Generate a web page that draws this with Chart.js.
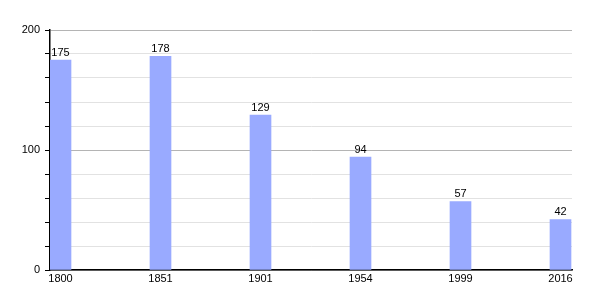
<!DOCTYPE html>
<html lang="en">
<head>
  <meta charset="UTF-8">
  <title>Population</title>
  <style>
    body { margin: 0; background: #fff; }
    canvas { display: block; }
  </style>
</head>
<body>
  <canvas id="chart" width="600" height="300"></canvas>

  <script src="https://cdn.jsdelivr.net/npm/chart.js"></script>
  <script>
    const years = ['1800', '1851', '1901', '1954', '1999', '2016'];
    const population = [175, 178, 129, 94, 57, 42];
    const yLabels = [0, 100, 200];

    const barColor = '#99aaff';

    // numbers above each bar
    const valueLabels = {
      id: 'valueLabels',
      afterDatasetsDraw(chart) {
        const ctx = chart.ctx;
        const meta = chart.getDatasetMeta(0);
        ctx.save();
        ctx.font = '11px "Liberation Sans", Arial, sans-serif';
        ctx.fillStyle = '#000';
        ctx.textAlign = 'center';
        ctx.textBaseline = 'bottom';
        meta.data.forEach((bar, i) => {
          ctx.fillText(population[i], bar.x, bar.y - 2);
        });
        ctx.restore();
      }
    };

    Chart.defaults.font.family = '"Liberation Sans", Arial, sans-serif';
    Chart.defaults.font.size = 11;
    Chart.defaults.color = '#000';

    new Chart(document.getElementById('chart'), {
      type: 'bar',
      data: {
        datasets: [{
          data: population.map((v, i) => ({ x: i, y: v })),
          backgroundColor: barColor,
          borderWidth: 0,
          barThickness: 21
        }]
      },
      options: {
        responsive: false,
        animation: false,
        layout: { padding: { left: 0, top: 30, right: 28, bottom: 0 } },
        plugins: {
          legend: { display: false },
          tooltip: { enabled: false }
        },
        scales: {
          x: {
            type: 'linear',
            offset: false,
            min: -0.105,
            max: 5.115,
            afterBuildTicks: axis => { axis.ticks = years.map((y, i) => ({ value: i })); },
            afterFit: axis => { axis.height = 30; },
            ticks: {
              callback: v => years[v],
              padding: 2,
              maxRotation: 0,
              autoSkip: false
            },
            grid: { display: false, drawTicks: false, offset: false },
            border: { display: true, color: '#000', width: 1.5 }
          },
          y: {
            min: 0,
            max: 200,
            afterFit: axis => { axis.width = 50; },
            ticks: {
              stepSize: 20,
              padding: 5,
              callback: v => yLabels.includes(v) ? v : ''
            },
            grid: {
              color: ctx => ctx.tick && ctx.tick.value % 100 === 0 ? '#b4b4b4' : '#e2e2e2',
              tickColor: '#000',
              tickLength: 5
            },
            border: { display: true, color: '#000', width: 1.5 }
          }
        }
      },
      plugins: [valueLabels]
    });
  </script>
</body>
</html>
